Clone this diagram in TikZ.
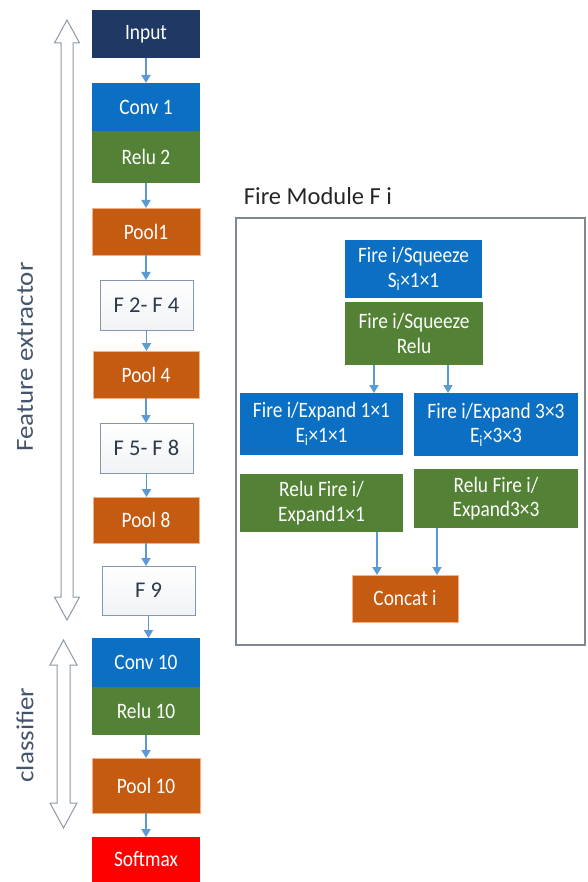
\documentclass[tikz,border=0pt]{standalone}
\usepackage{fontspec}
\setmainfont{Carlito}
\newfontfamily\boxfont[FakeStretch=0.88]{Carlito}
\newfontfamily\lblfont[FakeStretch=1.1]{Carlito}
\usetikzlibrary{arrows.meta,calc}
\definecolor{navy}{HTML}{1F3864}
\definecolor{cblue}{HTML}{0B6FC4}
\definecolor{rgreen}{HTML}{538135}
\definecolor{porange}{HTML}{C55A11}
\definecolor{pborder}{HTML}{F4B183}
\definecolor{smred}{HTML}{FF0000}
\definecolor{arrblue}{HTML}{5B9BD5}
\definecolor{fgray}{HTML}{8497B0}
\definecolor{ftext}{HTML}{2E3A4A}
\definecolor{bigarr}{HTML}{8C99A6}
\definecolor{lbl}{HTML}{44546A}
\definecolor{frm}{HTML}{7F8790}
\newcommand\mybox[7]{\node[#2, minimum width={(#5-#3)*1pt}, minimum height={(#6-#4)*1pt}] (#1) at ({(#3+#5)/2},{(#4+#6)/2}) {#7};}
\begin{document}
\begin{tikzpicture}[x=1pt,y=-1pt,
 blk/.style={inner sep=0pt, outer sep=0pt, align=center, text=white, font=\boxfont\fontsize{22}{24.5}\selectfont},
 inbox/.style={blk, fill=navy},
 convbox/.style={blk, fill=cblue},
 relubox/.style={blk, fill=rgreen},
 poolbox/.style={blk, fill=porange, draw=pborder, line width=0.8pt},
 firebox/.style={blk, top color=white, bottom color=white!88!fgray, draw=fgray, line width=1pt, text=ftext, font=\fontsize{22.5}{26}\selectfont},
 smbox/.style={blk, fill=smred},
 framebox/.style={blk, draw=frm, line width=1.2pt},
 arr/.style={draw=arrblue, line width=1.8pt, -{Triangle[width=9pt,length=8pt]}},
 bigarrow/.style={draw=bigarr, line width=1pt, fill=white},
 sidelabel/.style={rotate=90, font=\lblfont\fontsize{24.5}{30}\selectfont, text=lbl, inner sep=0pt},
]
\useasboundingbox (0,0) rectangle (588,882);
% left column
\mybox{inp}{inbox}{92}{10}{200}{58}{Input}
\mybox{c1}{convbox}{92}{83}{200}{131}{Conv 1}
\mybox{r2}{relubox}{92}{131}{200}{183}{Relu 2}
\mybox{p1}{poolbox}{92}{208}{200}{255}{Pool1}
\mybox{f24}{firebox}{100}{280}{193}{330}{F 2- F 4}
\mybox{p4}{poolbox}{93}{351}{199}{398}{Pool 4}
\mybox{f58}{firebox}{100}{423}{193}{473}{F 5- F 8}
\mybox{p8}{poolbox}{93}{497}{199}{543}{Pool 8}
\mybox{f9}{firebox}{102}{566}{195}{615}{F 9}
\mybox{c10}{convbox}{92}{638}{200}{687}{Conv 10}
\mybox{r10}{relubox}{92}{687}{200}{735}{Relu 10}
\mybox{p10}{poolbox}{92}{758}{200}{813}{Pool 10}
\mybox{sm}{smbox}{92}{837}{200}{882}{Softmax}
\draw[arr] (inp.south) -- (c1.north);
\draw[arr] (r2.south) -- (p1.north);
\draw[arr] (p1.south) -- (p1.south |- f24.north);
\draw[arr] (f24.south) -- (f24.south |- p4.north);
\draw[arr] (p4.south) -- (p4.south |- f58.north);
\draw[arr] (f58.south) -- (f58.south |- p8.north);
\draw[arr] (p8.south) -- (p8.south |- f9.north);
\draw[arr] (f9.south) -- (f9.south |- c10.north);
\draw[arr] (r10.south) -- (p10.north);
\draw[arr] (p10.south) -- (sm.north);
% big double arrows
\draw[bigarrow] (67,20) -- (79.5,43) -- (73,43) -- (73,597) -- (79.5,597) -- (67,620) -- (54.5,597) -- (61,597) -- (61,43) -- (54.5,43) -- cycle;
\draw[bigarrow] (63.5,640) -- (77,665) -- (70,665) -- (70,803) -- (77,803) -- (63.5,828) -- (50,803) -- (57,803) -- (57,665) -- (50,665) -- cycle;
\node[sidelabel] (fe) at (25,357) {Feature extractor};
\node[sidelabel] (cl) at (25,735) {classifier};
% fire module
\node[font=\fontsize{24.5}{28}\selectfont, text=black!85, inner sep=0pt] (title) at (318,196) {Fire Module F i};
\mybox{frame}{framebox}{236}{218}{585}{645}{}
\mybox{sq}{convbox}{345}{240}{482}{298}{Fire i/Squeeze\\S\textsubscript{i}×1×1}
\mybox{sr}{relubox}{345}{302}{483}{365}{Fire i/Squeeze\\Relu}
\mybox{e1}{convbox}{240}{393}{403}{455}{Fire i/Expand 1×1\\E\textsubscript{i}×1×1}
\mybox{e3}{convbox}{414}{393}{578}{456}{Fire i/Expand 3×3\\E\textsubscript{i}×3×3}
\mybox{rf1}{relubox}{240}{474}{403}{532}{Relu Fire i/\\Expand1×1}
\mybox{rf3}{relubox}{414}{469}{578}{528}{Relu Fire i/\\Expand3×3}
\mybox{cc}{poolbox}{352}{575}{458}{622}{Concat i}
\coordinate (a1) at ($(sr.south)+(-40,0)$);
\coordinate (a2) at ($(sr.south)+(34,0)$);
\draw[arr] (a1) -- (a1 |- e1.north);
\draw[arr] (a2) -- (a2 |- e3.north);
\coordinate (b1) at ($(cc.north)+(-28,0)$);
\coordinate (b2) at ($(cc.north)+(32,0)$);
\draw[arr] (b1 |- rf1.south) -- (b1);
\draw[arr] (b2 |- rf3.south) -- (b2);
\end{tikzpicture}
\end{document}
